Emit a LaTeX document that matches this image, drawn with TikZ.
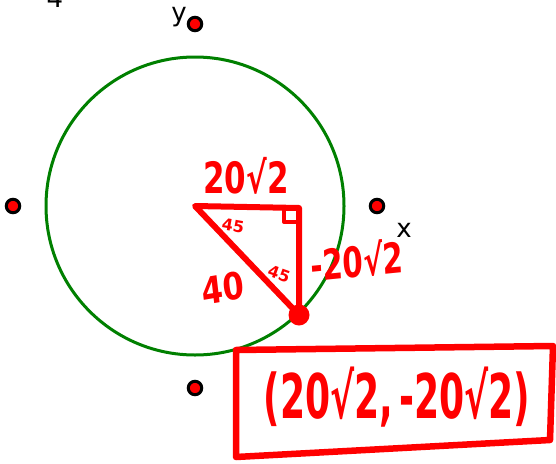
\documentclass[tikz,border=0pt]{standalone}
\usepackage{fontspec}
\setmainfont{DejaVu Sans}
\usetikzlibrary{backgrounds}
\definecolor{axisblue}{RGB}{150,150,205}
\definecolor{circgreen}{RGB}{0,128,0}
\begin{document}
\begin{tikzpicture}[x=1pt,y=-1pt,
  axis/.style={draw=axisblue, dash pattern=on 2pt off 1.5pt, line width=0.9pt},
  pt/.style={circle, fill=red, draw=black, line width=3pt, minimum size=13.5pt, inner sep=0pt},
  lbl/.style={font=\fontsize{26}{30}\selectfont, text=black, inner sep=0pt},
  ink/.style={draw=red, line width=6pt, line join=round, line cap=round},
  hw/.style={text=red, font=\bfseries\fontsize{#1}{#1}\selectfont, inner sep=0pt},
  hw/.default=30]
\useasboundingbox (0,0) rectangle (556,463);
\fill[white] (0,0) rectangle (556,463);

\coordinate (O) at (195,206);
\node[pt] (top) at (195,24) {};
\node[pt] (bot) at (195,388) {};
\node[pt] (lft) at (13,206) {};
\node[pt] (rgt) at (377,206) {};
\begin{scope}[on background layer]
  \draw[axis] (top.center) -- (bot.center);
  \draw[axis] (lft.center) -- (rgt.center);
\end{scope}

\draw[circgreen, line width=3pt] (O) circle[radius=149];

\node[lbl, anchor=base] (four) at (55,8) {4};
\node[lbl, anchor=base] (ylab) at (179,21) {y};
\node[lbl, anchor=base] (xlab) at (404,237) {x};

% triangle
\coordinate (C) at (299,208);
\coordinate (P) at (299,315);
\draw[ink] (O) -- (C) -- (P) -- cycle;
\draw[ink, line width=4pt] (284,209) -- (284,222) -- (298,222);
\node[circle, fill=red, minimum size=21pt, inner sep=0pt] (Pdot) at (P) {};

% labels
\node[hw=36, xscale=0.86, yscale=1.2] (top20) at (246,176) {20√2};
\node[hw=35, xscale=0.84, yscale=1.2, rotate=4] (side20) at (357,260) {-20√2};
\node[hw=34, xscale=0.9, yscale=1.1, rotate=8] (forty) at (223,288) {40};
\node[hw=16, rotate=-10] (a1) at (233,226) {45};
\node[hw=16, rotate=-20] (a2) at (279,274) {45};

% answer box
\draw[ink, line width=6.5pt] (236,350) -- (553,346) -- (550,440) -- (236,457) -- cycle;
\node[hw=44, xscale=0.82, yscale=1.4] (ans) at (397,397) {(20√2,\,-20√2)};
\end{tikzpicture}
\end{document}
